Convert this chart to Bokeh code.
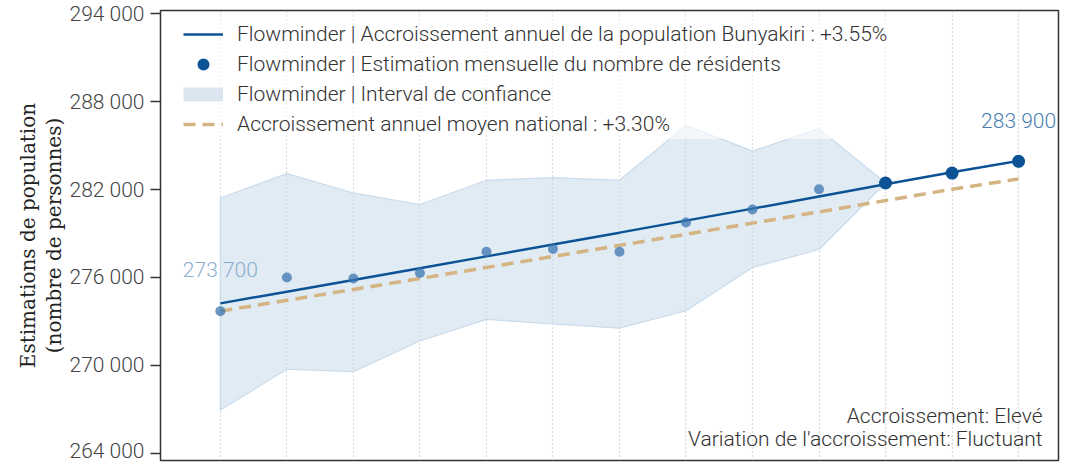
from bokeh.plotting import figure
from bokeh.models import FixedTicker, Label, Legend, LegendItem, Range1d
from bokeh.embed import file_html
from bokeh.resources import INLINE

# ---- data ----
month_idx = list(range(13))
resident_est = [273700, 276000, 275930, 276300, 277750, 277950, 277750,
                279750, 280640, 282020, 282450, 283130, 283930]
trend_local = [274230, 275030, 275830, 276630, 277440, 278250, 279060,
               279880, 280700, 281530, 282360, 283190, 283960]
trend_national = [273700, 274440, 275180, 275930, 276680, 277430, 278190,
                  278950, 279710, 280480, 281250, 282020, 282730]
ci_idx = list(range(11))
ci_upper = [281430, 283090, 281770, 280980, 282635, 282820, 282635,
            286385, 284630, 286160, 282450]
ci_lower = [266950, 269730, 269565, 271660, 273137, 272820, 272545,
            273725, 276680, 277910, 282450]
y_ticks = [264000, 270000, 276000, 282000, 288000, 294000]
y_tick_labels = ["264 000", "270 000", "276 000", "282 000", "288 000", "294 000"]
n_light = 10
first_label = "273 700"
last_label = "283 900"
legend_labels = [
    "Flowminder | Accroissement annuel de la population Bunyakiri : +3.55%",
    "Flowminder | Estimation mensuelle du nombre de résidents",
    "Flowminder | Interval de confiance",
    "Accroissement annuel moyen national : +3.30%",
]
note1 = "Accroissement: Elevé"
note2 = "Variation de l'accroissement: Fluctuant"

FONT = "Roboto Light"
BAND = "#c9dbeb"

x_lo, x_hi = -0.9, 12.6
p = figure(width=1060, height=462, output_backend="svg", toolbar_location=None,
           x_range=Range1d(x_lo, x_hi), y_range=Range1d(263500, 294230),
           min_border_left=160, min_border_right=2, min_border_top=10, min_border_bottom=2)

p.outline_line_color = "#333333"
p.outline_line_width = 1.5
p.background_fill_color = "white"

# grid
p.ygrid.visible = False
p.xgrid.ticker = FixedTicker(ticks=month_idx)
p.xgrid.grid_line_color = "#b5b5b5"
p.xgrid.grid_line_dash = "1 3"
p.xgrid.grid_line_width = 1.2
p.xaxis.visible = False

yax = p.yaxis[0]
yax.ticker = FixedTicker(ticks=y_ticks)
yax.major_label_overrides = {t: l for t, l in zip(y_ticks, y_tick_labels)}
yax.major_label_text_font = FONT
yax.major_label_text_font_size = "21px"
yax.major_label_text_color = "#444444"
yax.major_tick_out = 10
yax.major_tick_in = 0
yax.minor_tick_out = 0
yax.minor_tick_in = 0
yax.major_tick_line_color = "#333333"
yax.major_tick_line_width = 1.5
yax.axis_line_color = None
yax.major_label_standoff = 6
yax.axis_label = "Estimations de population\n(nombre de personnes)"
yax.axis_label_text_font = "DejaVu Serif"
yax.axis_label_text_font_style = "normal"
yax.axis_label_text_font_size = "20px"
yax.axis_label_text_line_height = 1.1
yax.axis_label_text_color = "#222222"
yax.axis_label_standoff = 0

# band
band_x = ci_idx + ci_idx[::-1]
band_y = ci_upper + ci_lower[::-1]
r_band = p.patch(band_x, band_y, fill_color=BAND, fill_alpha=0.55,
                 line_color=BAND, line_width=1.2)

r_nat = p.line(month_idx, trend_national, line_color="#d4b483", line_width=3.5,
               line_dash="12 7")
r_loc = p.line(month_idx, trend_local, line_color="#0b5394", line_width=2.5)

r_light = p.scatter(month_idx[:n_light], resident_est[:n_light], size=10,
                    fill_color="#3a75b0", fill_alpha=0.75, line_color=None)
r_dark = p.scatter(month_idx[n_light:], resident_est[n_light:], size=13,
                   fill_color="#0b5394", line_color=None)

# legend swatch for the band: a thick line placed outside the visible x range
r_band_key = p.line([x_lo - 5, x_lo - 4], [y_ticks[0], y_ticks[0]],
                    line_color="#dbe6f1", line_width=14, line_cap="butt")

p.add_layout(Label(x=month_idx[0], y=resident_est[0], y_offset=41, text=first_label,
                   text_align="center", text_baseline="middle", text_font=FONT,
                   text_font_size="21px", text_color="#8aadcc"))
p.add_layout(Label(x=month_idx[-1], y=resident_est[-1], y_offset=40, text=last_label,
                   text_align="center", text_baseline="middle", text_font=FONT,
                   text_font_size="21px", text_color="#4a80b3"))

p.add_layout(Label(x=12.36, y=266544, text=note1, text_align="right",
                   text_baseline="alphabetic", text_font=FONT,
                   text_font_size="21px", text_color="#333333"))
p.add_layout(Label(x=12.36, y=264976, text=note2, text_align="right",
                   text_baseline="alphabetic", text_font=FONT,
                   text_font_size="21px", text_color="#333333"))

legend = Legend(items=[
    LegendItem(label=legend_labels[0], renderers=[r_loc]),
    LegendItem(label=legend_labels[1], renderers=[r_dark]),
    LegendItem(label=legend_labels[2], renderers=[r_band_key]),
    LegendItem(label=legend_labels[3], renderers=[r_nat]),
], location=(23, 321))
legend.margin = 0
legend.padding = 10
legend.spacing = 0
legend.label_height = 20
legend.glyph_height = 30
legend.glyph_width = 40
legend.label_standoff = 14
legend.label_text_font = FONT
legend.label_text_font_size = "21px"
legend.label_text_color = "#333333"
legend.background_fill_color = "white"
legend.background_fill_alpha = 0.6
legend.border_line_color = None
p.add_layout(legend)

open("out.html", "w").write(file_html(p, INLINE))
